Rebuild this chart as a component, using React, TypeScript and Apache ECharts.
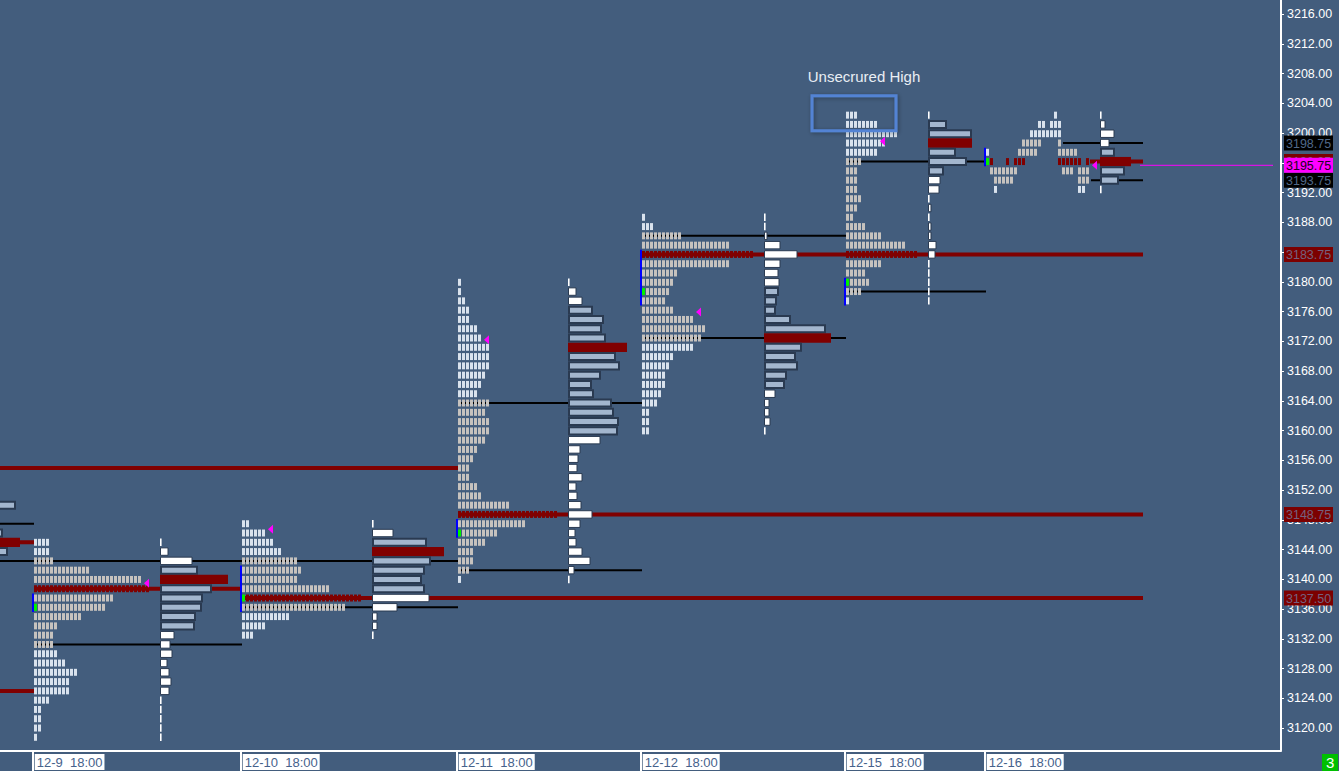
import React, { useEffect, useRef } from "react";
import * as echarts from "echarts";

const FONT = 'Arial, "Liberation Sans", Helvetica, sans-serif';

// ---------- axes ----------
const PRICE_STEP = 1.25; // one TPO row (5 ticks)
const SLOT_MAX = 320.25; // visible time slots
const PRICE_MIN = 3117;
const PRICE_MAX = 3218;
const LABEL_MIN = 3120;
const LABEL_MAX = 3216;
const LABEL_STEP = 4;

// ---------- sessions ----------
const SESSION_LABELS = ["12-9  18:00", "12-10  18:00", "12-11  18:00", "12-12  18:00", "12-15  18:00", "12-16  18:00"];
const TPO_START = [8.5, 60.5, 114.5, 160.5, 211.5, 246.5];
const VOL_START = [40, 93, 142, 191, 232, 275];
const TOP_PRICE = [3145, 3147.5, 3180, 3188.75, 3202.5, 3202.5];
const TPO_POC = [3138.75, 3137.5, 3148.75, 3183.75, 3183.75, 3196.25];
const VA_HIGH = [3142.5, 3142.5, 3163.75, 3186.25, 3196.25, 3198.75];
const VA_LOW = [3131.25, 3136.25, 3141.25, 3172.5, 3178.75, 3193.75];
const OPEN_PRICE = [3136.25, 3137.5, 3146.25, 3178.75, 3180, 3196.25];
const IB_HIGH = [3137.5, 3141.25, 3147.5, 3183.75, 3180, 3197.5];
const IB_LOW = [3136.25, 3136.25, 3146.25, 3177.5, 3177.5, 3196.25];
const VOL_POC = [3140, 3143.75, 3171.25, 3172.5, 3198.75, 3196.25];
const VOL_VA_HIGH = [3141.25, 3145, 3176.25, 3178.75, 3201.25, 3197.5];
const VOL_VA_LOW = [3133.75, 3138.75, 3160, 3166.25, 3195, 3193.75];
const CLOSE_PRICE = [3139.5, 3146.75, 3172.25, 3176, 3199, 3195.75];
const CLOSE_SLOT = [36, 67, 121, 174, 220, 273];

// TPO counts per row, from the session's top price downwards
const TPO_12_09 = [4, 4, 5, 14, 27, 29, 20, 18, 12, 6, 5, 5, 6, 8, 11, 9, 9, 4, 2, 2, 2, 1];
const TPO_12_10 = [2, 6, 8, 10, 14, 15, 14, 22, 30, 26, 12, 6, 3];
const TPO_12_11 = [1, 1, 2, 3, 3, 5, 6, 8, 8, 8, 7, 6, 5, 8, 7, 8, 8, 7, 5, 4, 3, 3, 5, 6, 13, 25, 17, 10, 7, 4, 4, 3, 1];
const TPO_12_12 = [1, 3, 10, 22, 28, 22, 9, 8, 7, 6, 8, 13, 16, 15, 13, 8, 7, 6, 6, 5, 4, 2, 2, 2];
const TPO_12_15 = [3, 8, 13, 10, 8, 4, 3, 3, 3, 4, 3, 2, 5, 9, 15, 18, 9, 5, 6, 4, 1];
// 12-16 split profile: l = outside value area, g = value area, r = POC, G = open
const TPO_12_16 = [
  ".................l",
  ".............ll.lll",
  "...........llllllll",
  ".........ggggg....g",
  "l.......ggggg.....ggggg",
  "Gr...r.rrr........rrrrrr.r",
  ".ggggggg...........ggg.ggg",
  "..ggggg................ggg",
  "..l....................ll",
];

// volume per row (scaled to slots), from the session's top price downwards
const VOL_12_09 = [0.4, 2, 8, 9.25, 17, 12.75, 10.5, 10.25, 8.75, 8.5, 3.5, 2.5, 3, 1.75, 2.25, 2.75, 2.25, 0.4, 0.4, 0.4, 0.4, 0.4];
const VOL_12_10 = [0.4, 5.25, 13.5, 18, 14.5, 13, 12.25, 13, 14.25, 6.25, 1.25, 1.25, 0.4];
const VOL_12_11 = [0.4, 2, 3.5, 6, 8.75, 8.25, 9.25, 14.75, 11.75, 12.75, 8, 5.75, 6.25, 10.75, 11.25, 12.5, 12.25, 8, 3, 2.5, 2.25, 3.5, 2, 2.25, 3.25, 6, 3, 1.75, 2, 3.5, 5.5, 1.5, 0.4];
const VOL_12_12 = [0.4, 0.4, 0.75, 4, 8.25, 4, 3.5, 3.75, 3.5, 3, 2.75, 6.5, 15.25, 16.75, 9.25, 7.75, 8.25, 5.5, 5, 2.75, 1.25, 1.25, 1.5, 0.4];
const VOL_12_15 = [0.4, 4.5, 10.75, 11, 6.75, 9.5, 3.75, 3, 2.75, 0.4, 0.75, 0.4, 0.75, 0.75, 2, 1.75, 0.4, 0.4, 0.4, 0.4, 0.4];
const VOL_12_16 = [0.4, 1.25, 3.5, 2.25, 3.5, 7.75, 6, 4.5, 0.4];

// previous session (12-8), mostly off the left edge
const PREV_VOL_START = -20;
const PREV_VOL_TOP = 3151.25;
const PREV_VOL = [15, 23.75, 15, 15, 20.5, 25, 21.75, 15];
const PREV_VOL_POC = 3145;

// value-area lines [price, from slot, to slot]
const VA_LINES = [
  [3147.5, -5, 8.5], [3142.5, -5, 114.5], [3131.25, 8.5, 60.5], [3136.25, 60.5, 114.5],
  [3163.75, 114.5, 160.5], [3141.25, 114.5, 160.5], [3186.25, 160.5, 211.5], [3172.5, 160.5, 211.5],
  [3196.25, 211.5, 246.5], [3178.75, 211.5, 246.5], [3198.75, 265.75, 285.75], [3193.75, 272.75, 285.75],
];
// POC lines [price, from slot, to slot]
const POC_LINES = [
  [3155, -5, 114.5], [3125, -5, 8.5], [3145, -5, 8.5], [3138.75, 8.5, 60.5],
  [3137.5, 60.5, 285.75], [3148.75, 114.5, 285.75], [3183.75, 160.5, 285.75], [3196.25, 272.5, 285.75],
];

const LAST_PRICE = 3195.75;
const LAST_LINE = [285, 318.25];
const PRICE_TAGS: [number, string][] = [
  [3137.5, "poc"], [3148.75, "poc"], [3183.75, "poc"], [3196.25, "poc"],
  [3198.75, "va"], [3193.75, "va"], [3195.75, "last"],
];

const NOTE_TEXT = "Unsecrured High";
const NOTE_BOX = [203, 224, 3205.1, 3200.4];
const NOTE_AT = [216, 3207.7];

// ---------- colours ----------
const BG = "#435d7d";
const LIGHT = "#d9e2ed";
const GRAY = "#c6c2be";
const RED = "#800000";
const GREEN = "#00f000";
const VOL_VA = "#a3b6ce";
const VOL_EDGE = "#2a3a51";
const MAGENTA = "#ff00ff";

type Block = { x: number; p: number; c: string };
type Vol = { x: number; p: number; w: number; k: string };

function buildBlocks(): Block[] {
  const out: Block[] = [];
  const all = [TPO_12_09, TPO_12_10, TPO_12_11, TPO_12_12, TPO_12_15];
  all.forEach((rows, s) => {
    rows.forEach((n, r) => {
      const p = TOP_PRICE[s] - r * PRICE_STEP;
      for (let i = 0; i < n; i++) {
        let c = p <= VA_HIGH[s] && p >= VA_LOW[s] ? GRAY : LIGHT;
        if (p === TPO_POC[s]) c = RED;
        if (i === 0 && p === OPEN_PRICE[s]) c = GREEN;
        out.push({ x: TPO_START[s] + i, p, c });
      }
    });
  });
  const map: Record<string, string> = { l: LIGHT, g: GRAY, r: RED, G: GREEN };
  TPO_12_16.forEach((row, r) => {
    const p = TOP_PRICE[5] - r * PRICE_STEP;
    for (let i = 0; i < row.length; i++) {
      const ch = row[i];
      if (ch === ".") continue;
      out.push({ x: TPO_START[5] + i, p, c: map[ch] });
    }
  });
  return out;
}

function buildVols(): Vol[] {
  const out: Vol[] = [];
  PREV_VOL.forEach((w, r) => {
    const p = PREV_VOL_TOP - r * PRICE_STEP;
    out.push({ x: PREV_VOL_START, p, w, k: p === PREV_VOL_POC ? "poc" : "va" });
  });
  const all = [VOL_12_09, VOL_12_10, VOL_12_11, VOL_12_12, VOL_12_15, VOL_12_16];
  all.forEach((rows, s) => {
    rows.forEach((w, r) => {
      const p = TOP_PRICE[s] - r * PRICE_STEP;
      let k = "out";
      if (w < 0.5) k = "thin";
      else if (p === VOL_POC[s]) k = "poc";
      else if (p <= VOL_VA_HIGH[s] && p >= VOL_VA_LOW[s]) k = "va";
      out.push({ x: VOL_START[s], p, w, k });
    });
  });
  return out;
}

function buildOption() {
  const blocks = buildBlocks();
  const vols = buildVols();

  const lineSeries = (name: string, lines: number[][], color: string, width: number) => ({
    type: "custom",
    name,
    silent: true,
    z: 1,
    xAxisIndex: 0,
    yAxisIndex: 0,
    data: lines.map((l) => [l[1], l[0]]),
    renderItem: (params: any, api: any) => {
      const l = lines[params.dataIndex];
      const a = api.coord([l[1], l[0]]);
      const b = api.coord([l[2], l[0]]);
      return { type: "line", shape: { x1: a[0], y1: a[1], x2: b[0], y2: b[1] }, style: { stroke: color, lineWidth: width } };
    },
  });

  return {
    animation: false,
    backgroundColor: BG,
    grid: [
      { left: 0, right: 58, top: -0.875, bottom: 20.6875 },
      { left: 0, right: 58, top: 14, bottom: 43 },
    ],
    xAxis: [
      {
        type: "value", gridIndex: 0, min: 0, max: SLOT_MAX,
        axisLine: { show: true, onZero: false, lineStyle: { color: "#ffffff", width: 2 } },
        axisTick: { show: false }, axisLabel: { show: false }, splitLine: { show: false },
      },
      { type: "value", gridIndex: 1, min: 0, max: SLOT_MAX, show: false },
    ],
    yAxis: [
      {
        type: "value", gridIndex: 0, position: "right", min: PRICE_MIN, max: PRICE_MAX,
        axisLine: { show: true, onZero: false, lineStyle: { color: "#ffffff", width: 2 } },
        axisTick: { show: false }, axisLabel: { show: false }, splitLine: { show: false },
      },
      {
        type: "value", gridIndex: 1, position: "right", min: LABEL_MIN, max: LABEL_MAX, interval: LABEL_STEP,
        axisLine: { show: false, onZero: false },
        axisTick: { show: true, length: 3, lineStyle: { color: "#ffffff", width: 1 } },
        axisLabel: {
          color: "#ffffff", fontSize: 12.5, fontFamily: FONT, margin: 6,
          formatter: (v: number) => v.toFixed(2),
        },
        splitLine: { show: false },
      },
    ],
    graphic: [
      { type: "rect", left: 1322, top: 754, shape: { width: 16, height: 17 }, style: { fill: "#00c000" } },
      { type: "text", left: 1326, top: 755, style: { text: "3", fill: "#ffffff", fontSize: 15, fontFamily: FONT } },
    ],
    series: [
      lineSeries("poc-lines", POC_LINES, RED, 4),
      lineSeries("va-lines", VA_LINES, "#000000", 2),
      {
        type: "custom", name: "ib", silent: true, z: 2,
        data: IB_HIGH.map((h, i) => [TPO_START[i], h]),
        renderItem: (params: any, api: any) => {
          const i = params.dataIndex;
          const a = api.coord([TPO_START[i] - 0.25, IB_HIGH[i] + PRICE_STEP / 2]);
          const b = api.coord([TPO_START[i] - 0.25, IB_LOW[i] - PRICE_STEP / 2]);
          return { type: "line", shape: { x1: a[0], y1: a[1], x2: b[0], y2: b[1] }, style: { stroke: "#0000ff", lineWidth: 2 } };
        },
      },
      {
        type: "custom", name: "tpo", silent: true, z: 3,
        data: blocks.map((b) => [b.x, b.p]),
        renderItem: (params: any, api: any) => {
          const b = blocks[params.dataIndex];
          const pt = api.coord([b.x, b.p]);
          const sz = api.size([1, PRICE_STEP]);
          const h = sz[1] * 0.75;
          return { type: "rect", shape: { x: pt[0], y: pt[1] - h / 2, width: sz[0] * 0.75, height: h }, style: { fill: b.c } };
        },
      },
      {
        type: "custom", name: "volume", silent: true, z: 4,
        data: vols.map((v) => [v.x, v.p]),
        renderItem: (params: any, api: any) => {
          const v = vols[params.dataIndex];
          const a = api.coord([v.x, v.p]);
          const b = api.coord([v.x + v.w, v.p]);
          const row = api.size([0, PRICE_STEP])[1];
          if (v.k === "thin")
            return { type: "rect", shape: { x: a[0], y: a[1] - row * 0.4, width: 1.6, height: row * 0.8 }, style: { fill: "#ffffff" } };
          if (v.k === "poc")
            return { type: "rect", shape: { x: a[0], y: a[1] - row / 2, width: b[0] - a[0], height: row }, style: { fill: RED } };
          if (v.k === "va")
            return {
              type: "rect",
              shape: { x: a[0] + 1, y: a[1] - row * 0.38, width: b[0] - a[0] - 1, height: row * 0.76 },
              style: { fill: VOL_VA, stroke: VOL_EDGE, lineWidth: 2 },
            };
          return {
            type: "rect",
            shape: { x: a[0] + 0.5, y: a[1] - row * 0.4, width: b[0] - a[0] - 0.5, height: row * 0.8 },
            style: { fill: "#ffffff", stroke: VOL_EDGE, lineWidth: 1 },
          };
        },
      },
      {
        type: "custom", name: "closes", silent: true, z: 5,
        data: CLOSE_PRICE.map((p, i) => [CLOSE_SLOT[i], p]),
        renderItem: (params: any, api: any) => {
          const i = params.dataIndex;
          const c = api.coord([CLOSE_SLOT[i], CLOSE_PRICE[i]]);
          return {
            type: "polygon",
            shape: { points: [[c[0], c[1]], [c[0] + 5, c[1] - 4.5], [c[0] + 5, c[1] + 4.5]] },
            style: { fill: MAGENTA },
          };
        },
      },
      {
        type: "custom", name: "last", silent: true, z: 5,
        data: [[LAST_LINE[0], LAST_PRICE]],
        renderItem: (params: any, api: any) => {
          const a = api.coord([LAST_LINE[0], LAST_PRICE]);
          const b = api.coord([LAST_LINE[1], LAST_PRICE]);
          return { type: "line", shape: { x1: a[0], y1: a[1], x2: b[0], y2: b[1] }, style: { stroke: MAGENTA, lineWidth: 1 } };
        },
      },
      {
        type: "custom", name: "note", silent: true, z: 6,
        data: [[NOTE_BOX[0], NOTE_BOX[2]]],
        renderItem: (params: any, api: any) => {
          const a = api.coord([NOTE_BOX[0], NOTE_BOX[2]]);
          const b = api.coord([NOTE_BOX[1], NOTE_BOX[3]]);
          const t = api.coord([NOTE_AT[0], NOTE_AT[1]]);
          return {
            type: "group",
            children: [
              {
                type: "rect",
                shape: { x: a[0], y: a[1], width: b[0] - a[0], height: b[1] - a[1] },
                style: { fill: "transparent", stroke: "#5283d4", lineWidth: 3, shadowBlur: 4, shadowColor: "rgba(0,0,0,0.35)", shadowOffsetX: 1, shadowOffsetY: 1 },
              },
              {
                type: "text", x: t[0], y: t[1],
                style: { text: NOTE_TEXT, fill: "#e9eef4", fontSize: 15, fontFamily: FONT, align: "center", verticalAlign: "middle" },
              },
            ],
          };
        },
      },
      {
        type: "custom", name: "tags", silent: true, z: 10, clip: false,
        data: PRICE_TAGS.map((t) => [SLOT_MAX, t[0]]),
        renderItem: (params: any, api: any) => {
          const [p, kind] = PRICE_TAGS[params.dataIndex];
          const c = api.coord([SLOT_MAX, p]);
          const fill = kind === "poc" ? "#7c0000" : kind === "last" ? MAGENTA : "#000000";
          const txt = kind === "poc" ? "#75607e" : kind === "last" ? "#200020" : "#50698a";
          return {
            type: "group",
            children: [
              { type: "rect", shape: { x: c[0] + 3, y: c[1] - 7.5, width: 49, height: 15 }, style: { fill } },
              {
                type: "text", x: c[0] + 5, y: c[1] + 0.5,
                style: { text: p.toFixed(2), fill: txt, fontSize: 12.5, fontFamily: FONT, align: "left", verticalAlign: "middle" },
              },
            ],
          };
        },
      },
      {
        type: "custom", name: "sessions", silent: true, z: 10, clip: false,
        data: TPO_START.map((x) => [x, PRICE_MIN]),
        renderItem: (params: any, api: any) => {
          const i = params.dataIndex;
          const c = api.coord([TPO_START[i], PRICE_MIN]);
          return {
            type: "group",
            children: [
              { type: "line", shape: { x1: c[0] - 1, y1: c[1], x2: c[0] - 1, y2: c[1] + 22 }, style: { stroke: "#ffffff", lineWidth: 2 } },
              {
                type: "text", x: c[0] + 0.7, y: c[1] + 3.7,
                style: {
                  text: SESSION_LABELS[i], fill: "#46628c", fontSize: 13, fontFamily: FONT,
                  align: "left", verticalAlign: "top", backgroundColor: "#ffffff", padding: [2, 2, 1, 2],
                },
              },
            ],
          };
        },
      },
    ],
  };
}

export default function App() {
  const ref = useRef<HTMLDivElement>(null);
  useEffect(() => {
    if (!ref.current) return;
    const chart = echarts.init(ref.current, undefined, { renderer: "svg" });
    chart.setOption(buildOption() as any);
    return () => chart.dispose();
  }, []);
  return <div ref={ref} style={{ position: "fixed", left: 0, top: 0, width: 1339, height: 771 }} />;
}
